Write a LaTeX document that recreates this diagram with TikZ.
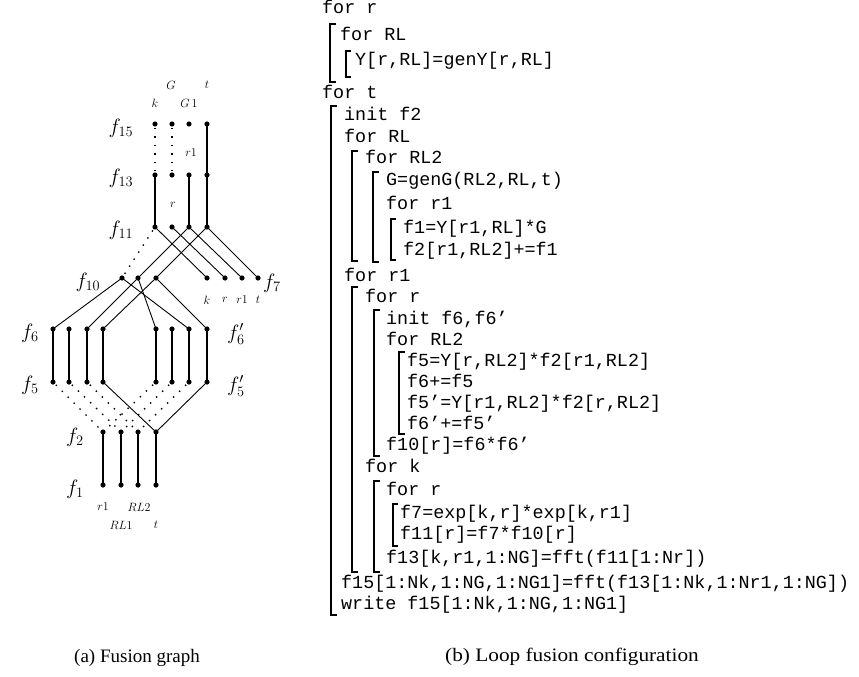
\documentclass[tikz,border=0pt]{standalone}
\usepackage{fontspec}
\newfontfamily\codefont{Liberation Mono}
\newfontfamily\capfont{Liberation Serif}
\newfontfamily\capfontwide[FakeStretch=1.12]{Liberation Serif}
\begin{document}
\begin{tikzpicture}[x=1pt,y=-1pt,
 gdot/.style={circle,fill=black,inner sep=0pt,minimum size=5.2pt},
 diag/.style={line width=0.9pt},
 vmed/.style={line width=1.8pt},
 vthk/.style={line width=2.8pt},
 dotl/.style={line width=1.4pt,dash pattern=on 1.4pt off 7pt,dash phase=-4pt},
 flab/.style={inner sep=0pt,font=\fontsize{21}{24}\selectfont},
 slab/.style={inner sep=0pt,font=\fontsize{12.5}{14}\selectfont},
 code/.style={anchor=west,inner sep=0pt,font=\codefont\fontsize{18.4}{22}\selectfont,text height=11pt,text depth=3pt},
 brk/.style={line width=2pt},
 brkthin/.style={line width=1.3pt},
 capt/.style={inner sep=0pt,font=\capfont\fontsize{19}{22}\selectfont}]
\useasboundingbox (0,0) rectangle (859,677);

% ---------- fusion graph: vertices ----------
\foreach \i/\x in {1/155,2/172,3/189,4/207} {
  \node[gdot] (r15c\i) at (\x,124) {};
  \node[gdot] (r13c\i) at (\x,175) {};
  \node[gdot] (r11c\i) at (\x,227) {};
}
\foreach \i/\x in {1/207,2/225,3/242,4/258} \node[gdot] (r7c\i) at (\x,278) {};
\foreach \i/\x in {1/122,2/138,3/156} \node[gdot] (r10c\i) at (\x,278) {};
\foreach \i/\x in {1/53,2/69,3/87,4/103,5/156,6/172,7/189,8/207} {
  \node[gdot] (r6c\i) at (\x,329) {};
  \node[gdot] (r5c\i) at (\x,382) {};
}
\foreach \i/\x in {1/103,2/121,3/138,4/156} {
  \node[gdot] (r2c\i) at (\x,432) {};
  \node[gdot] (r1c\i) at (\x,485) {};
}

% ---------- fusion graph: edges ----------
\draw[dotl] (r15c1.center) -- (r13c1.center);
\draw[dotl] (r15c2.center) -- (r13c2.center);
\draw[vthk] (r15c4.center) -- (r11c4.center);
\draw[vmed] (r13c1.center) -- (r11c1.center);
\draw[vmed] (r13c3.center) -- (r11c3.center);

\foreach \i in {1,2,3,4} \draw[diag] (r11c\i.center) -- (r7c\i.center);
\draw[diag] (r11c3.center) -- (r10c2.center);
\draw[diag] (r11c4.center) -- (r10c3.center);
\draw[dotl] (r11c1.center) -- (r10c1.center);

\draw[diag] (r10c1.center) -- (r6c1.center);
\draw[diag] (r10c1.center) -- (r6c7.center);
\draw[diag] (r10c2.center) -- (r6c3.center);
\draw[diag] (r10c2.center) -- (r6c5.center);
\draw[diag] (r10c3.center) -- (r6c4.center);
\draw[diag] (r10c3.center) -- (r6c8.center);

\foreach \i in {1,2,3,4,5,6,7} \draw[vmed] (r6c\i.center) -- (r5c\i.center);
\draw[vthk] (r6c8.center) -- (r5c8.center);

\draw[diag] (r5c4.center) -- (r2c4.center);
\draw[diag] (r5c8.center) -- (r2c4.center);
\draw[dotl] (r5c1.center) -- (r2c1.center);
\draw[dotl] (r5c2.center) -- (r2c2.center);
\draw[dotl] (r5c3.center) -- (r2c3.center);
\draw[dotl] (r5c5.center) -- (r2c1.center);
\draw[dotl] (r5c6.center) -- (r2c2.center);
\draw[dotl] (r5c7.center) -- (r2c3.center);

\draw[vmed] (r2c1.center) -- (r1c1.center);
\draw[vthk] (r2c2.center) -- (r1c2.center);
\draw[vmed] (r2c3.center) -- (r1c3.center);
\draw[vmed] (r2c4.center) -- (r1c4.center);

% ---------- fusion graph: labels ----------
\node[flab] (lf15) at (121,128) {$f_{15}$};
\node[flab] (lf13) at (121,178) {$f_{13}$};
\node[flab] (lf11) at (121,230) {$f_{11}$};
\node[flab] (lf10) at (88,282) {$f_{10}$};
\node[flab] (lf7) at (272,283) {$f_{7}$};
\node[flab] (lf6) at (30,333) {$f_{6}$};
\node[flab] (lf5) at (30,385) {$f_{5}$};
\node[flab] (lf6p) at (236,334) {$f'_{6}$};
\node[flab] (lf5p) at (236,386) {$f'_{5}$};
\node[flab] (lf2) at (75,437) {$f_{2}$};
\node[flab] (lf1) at (75,489) {$f_{1}$};

\node[slab] (sG) at (171,85) {$G$};
\node[slab] (st) at (207,85) {$t$};
\node[slab] (sk) at (155,103) {$k$};
\node[slab] (sG1) at (189,103) {$G\,1$};
\node[slab] (sr1) at (191,153) {$r1$};
\node[slab] (sr) at (173,205) {$r$};
\node[slab] (s7k) at (207,300) {$k$};
\node[slab] (s7r) at (225,300) {$r$};
\node[slab] (s7r1) at (242,300) {$r1$};
\node[slab] (s7t) at (258,300) {$t$};
\node[slab] (br1) at (103,507) {$r1$};
\node[slab] (bRL2) at (139,507) {$RL2$};
\node[slab] (bRL1) at (121,525) {$RL1$};
\node[slab] (bt) at (156,525) {$t$};

% ---------- loop fusion configuration ----------
\node[code] (c1)  at (322,10)  {for r};
\node[code] (c2)  at (340,37)  {for RL};
\node[code] (c3)  at (355,62)  {Y[r,RL]=genY[r,RL]};
\node[code] (c4)  at (322,95)  {for t};
\node[code] (c5)  at (344,116) {init f2};
\node[code] (c6)  at (344,138) {for RL};
\node[code] (c7)  at (365,159) {for RL2};
\node[code] (c8)  at (386,181) {G=genG(RL2,RL,t)};
\node[code] (c9)  at (386,205) {for r1};
\node[code] (c10) at (403,229) {f1=Y[r1,RL]*G};
\node[code] (c11) at (403,251) {f2[r1,RL2]+=f1};
\node[code] (c12) at (344,277) {for r1};
\node[code] (c13) at (365,298) {for r};
\node[code] (c14) at (386,320) {init f6,f6’};
\node[code] (c15) at (386,341) {for RL2};
\node[code] (c16) at (407,362) {f5=Y[r,RL2]*f2[r1,RL2]};
\node[code] (c17) at (407,383) {f6+=f5};
\node[code] (c18) at (407,404) {f5’=Y[r1,RL2]*f2[r,RL2]};
\node[code] (c19) at (407,425) {f6’+=f5’};
\node[code] (c20) at (386,446) {f10[r]=f6*f6’};
\node[code] (c21) at (365,468) {for k};
\node[code] (c22) at (386,491) {for r};
\node[code] (c23) at (400,514) {f7=exp[k,r]*exp[k,r1]};
\node[code] (c24) at (400,535) {f11[r]=f7*f10[r]};
\node[code] (c25) at (386,559) {f13[k,r1,1:NG]=fft(f11[1:Nr])};
\node[code] (c26) at (341,584) {f15[1:Nk,1:NG,1:NG1]=fft(f13[1:Nk,1:Nr1,1:NG])};
\node[code] (c27) at (341,605) {write f15[1:Nk,1:NG,1:NG1]};

% brackets
\draw[brk]     (336,24)  -- (330,24)  -- (330,82)  -- (336,82);
\draw[brkthin] (351,51)  -- (346,51)  -- (346,77)  -- (351,77);
\draw[line width=1.6pt] (337,106) -- (331,106) -- (331,615) -- (337,615);
\draw[brk]     (358,151) -- (352,151) -- (352,261) -- (358,261);
\draw[brk]     (379,172) -- (373,172) -- (373,262) -- (379,262);
\draw[line width=1.4pt] (396,219) -- (391,219) -- (391,260) -- (396,260);
\draw[brk]     (358,287) -- (352,287) -- (352,572) -- (358,572);
\draw[brk]     (380,310) -- (374,310) -- (374,456) -- (380,456);
\draw[brk]     (405,352) -- (399,352) -- (399,434) -- (405,434);
\draw[brk]     (380,481) -- (374,481) -- (374,572) -- (380,572);
\draw[brkthin] (398,504) -- (393,504) -- (393,546) -- (398,546);

% ---------- captions ----------
\node[capt] (capa) at (137,658) {(a) Fusion graph};
\node[capt,font=\capfontwide\fontsize{19}{22}\selectfont] (capb) at (572,657) {(b) Loop fusion configuration};
\end{tikzpicture}
\end{document}
